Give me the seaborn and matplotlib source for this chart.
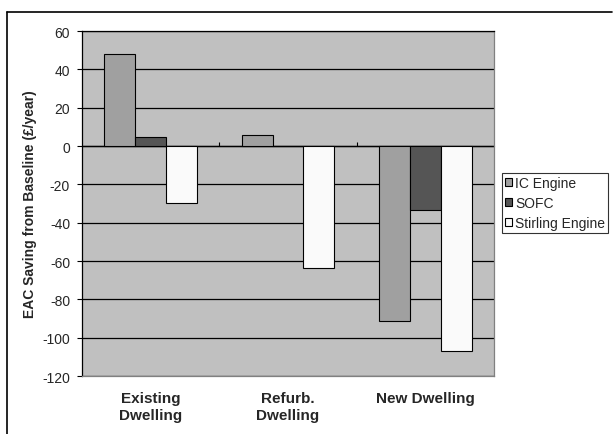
import matplotlib
matplotlib.use("Agg")
import matplotlib.pyplot as plt
import seaborn as sns
import pandas as pd
from matplotlib.patches import Patch
from matplotlib.lines import Line2D

# Chart data
categories = ["Existing\nDwelling", "Refurb.\nDwelling", "New Dwelling"]
technologies = ["IC Engine", "SOFC", "Stirling Engine"]
ic_engine = [48, 5.5, -91.5]
sofc = [4.5, 0, -33.5]
stirling = [-29.5, -63.5, -107]
y_ticks = [60, 40, 20, 0, -20, -40, -60, -80, -100, -120]

colors = {"IC Engine": "#A0A0A0", "SOFC": "#555555", "Stirling Engine": "#FAFAFA"}

rows = []
for cat, a, b, c in zip(categories, ic_engine, sofc, stirling):
    rows.append({"Dwelling": cat, "Technology": "IC Engine", "Saving": a})
    rows.append({"Dwelling": cat, "Technology": "SOFC", "Saving": b})
    rows.append({"Dwelling": cat, "Technology": "Stirling Engine", "Saving": c})
df = pd.DataFrame(rows)

sns.set_style("white")
plt.rcParams["font.family"] = ["Liberation Sans", "DejaVu Sans"]

fig = plt.figure(figsize=(6.13, 4.35), dpi=100)
ax = fig.add_axes([0.1338, 0.1333, 0.672, 0.7931])
ax.set_facecolor("#C0C0C0")

sns.barplot(data=df, x="Dwelling", y="Saving", hue="Technology",
            hue_order=technologies, palette=colors, width=0.675, gap=0,
            edgecolor="black", linewidth=0.8, saturation=1, ax=ax,
            legend=False, zorder=3)

ymin, ymax = -120, 60
ax.set_ylim(ymin, ymax)
ax.set_xlim(-0.5, len(categories) - 0.5)
ax.set_yticks(y_ticks)
ax.set_yticklabels([str(t) for t in y_ticks], fontsize=10)
ax.yaxis.grid(True, color="black", linewidth=0.9, zorder=1)
ax.set_axisbelow(True)
ax.axhline(0, color="black", linewidth=0.9, zorder=2)

ax.set_xlabel("")
ax.set_ylabel("EAC Saving from Baseline (£/year)", fontsize=10,
              fontweight="bold", labelpad=4)
ax.set_xticks(range(len(categories)))
ax.set_xticklabels(categories, fontsize=11, fontweight="bold", linespacing=1.25,
                   va="top")
ax.tick_params(axis="x", length=0, pad=11)
ax.tick_params(axis="y", left=True, length=3.6, width=0.8, color="black", pad=5)

for name, sp in ax.spines.items():
    sp.set_linewidth(0.9)
    sp.set_color("#808080")
ax.spines["left"].set_color("black")
ax.spines["top"].set_color("black")

# Category axis ticks along the zero line
zero_frac = (0 - ymin) / (ymax - ymin)
sec = ax.secondary_xaxis(zero_frac)
sec.set_xticks([0.5, 1.5])
sec.set_xticklabels([])
sec.tick_params(length=3, width=0.8, direction="out", color="black")
sec.spines["bottom"].set_visible(False)

# Legend
handles = [Patch(facecolor=colors[t], edgecolor="black", linewidth=0.8)
           for t in technologies]
leg = fig.legend(handles, technologies, loc="upper left",
                 bbox_to_anchor=(0.819, 0.600), fontsize=10, frameon=True,
                 fancybox=False, edgecolor="black", handlelength=0.5,
                 handleheight=0.5, handletextpad=0.25, labelspacing=0.45,
                 borderpad=0.2, borderaxespad=0)
leg.get_frame().set_linewidth(0.8)

# Outer chart frame
fig.add_artist(Line2D([0.0114, 0.0114], [0, 0.970], color="black",
                      linewidth=1.2, transform=fig.transFigure))
fig.add_artist(Line2D([0.0114, 0.9985], [0.970, 0.970], color="black",
                      linewidth=1.2, transform=fig.transFigure))

fig.savefig("out.png", dpi=100)
